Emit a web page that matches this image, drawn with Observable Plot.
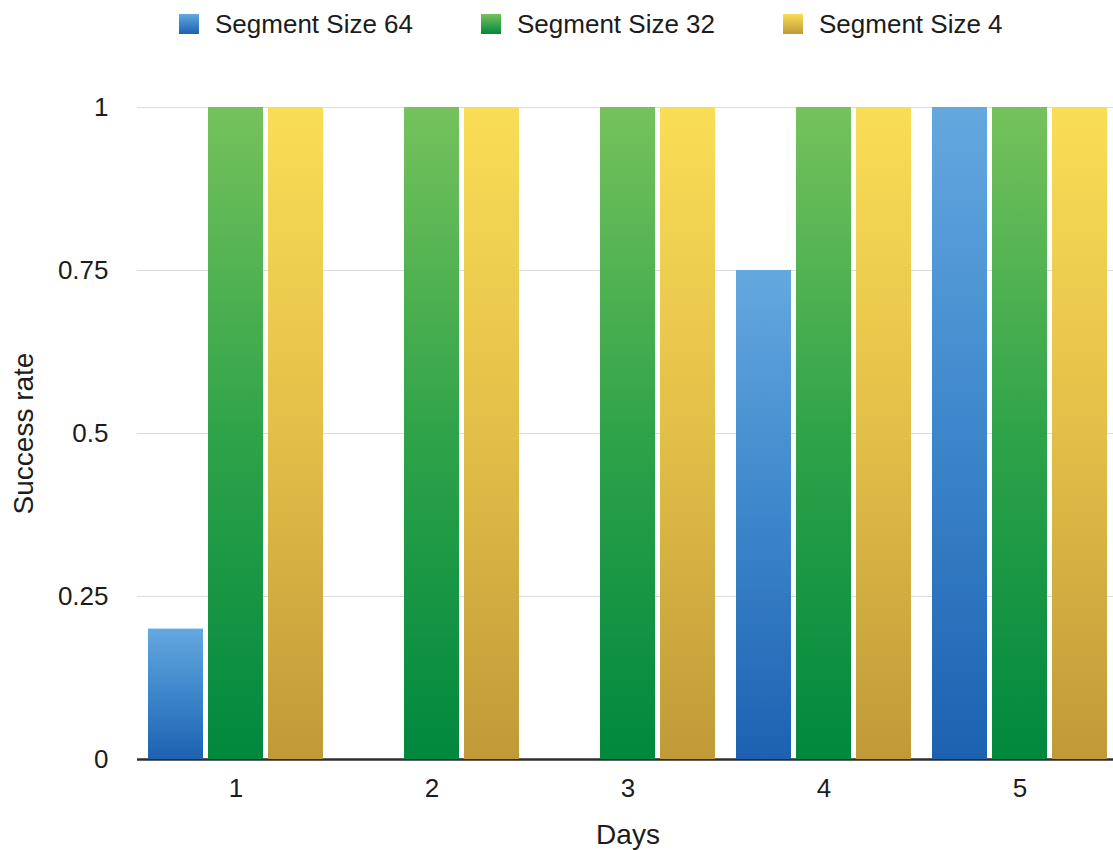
<!DOCTYPE html>
<html>
<head>
<meta charset="utf-8">
<script src="https://cdn.jsdelivr.net/npm/d3@7"></script>
<script src="https://cdn.jsdelivr.net/npm/@observablehq/plot@0.6"></script>
<style>
  html, body { margin: 0; padding: 0; background: #fff; overflow: hidden; }
  #wrap { position: relative; width: 1113px; height: 850px; font-family: "Liberation Sans", Arial, Helvetica, sans-serif; color: #1c1c1c; }
  #legend { position: absolute; left: 179px; top: 14px; display: flex; gap: 68px; }
  .item { display: flex; align-items: center; gap: 16px; font-size: 26px; line-height: 20px; height: 20px; white-space: nowrap; }
  .swatch { width: 20px; height: 20px; }
  .layer { position: absolute; left: 0; top: 45px; width: 1120px; }
  .layer svg { display: block; max-width: none !important; }
</style>
</head>
<body>
<div id="wrap">
  <div id="legend"></div>
  <div id="back" class="layer"></div>
  <div id="front" class="layer"></div>
</div>
<script>
// Days on the x axis
const days = [1, 2, 3, 4, 5];
// Series names (legend order)
const series = ["Segment Size 64", "Segment Size 32", "Segment Size 4"];
// Success rate per day for each segment size
const size64 = [0.2, 0, 0, 0.75, 1];
const size32 = [1, 1, 1, 1, 1];
const size4 = [1, 1, 1, 1, 1];
// Y axis ticks
const yTicks = [0, 0.25, 0.5, 0.75, 1];

// Vertical gradients for each series: top, middle, bottom
const gradients = [
  ["#64a8df", "#3d86cb", "#1d61b1"],
  ["#76c25c", "#2fa349", "#00883e"],
  ["#fadd56", "#e2bf48", "#c09a38"]
];

const values = [size64, size32, size4];
const rows = [];
days.forEach((d, i) => {
  series.forEach((s, j) => rows.push({day: d, series: s, value: values[j][i]}));
});

// Shared frame so both layers line up exactly
const frame = {
  width: 1120,
  height: 805,
  marginTop: 62,
  marginBottom: 91,
  marginLeft: 137,
  marginRight: 1
};
const font = "'Liberation Sans', Arial, Helvetica, sans-serif";
const yScale = {domain: [0, 1], ticks: yTicks, tickFormat: d3.format(""), tickSize: 0, tickPadding: 29,
  label: "Success rate", labelAnchor: "center", labelArrow: "none", labelOffset: 124};

// Back layer: continuous gridlines, y axis and the zero baseline
const back = Plot.plot({
  ...frame,
  style: {fontFamily: font, fontSize: "26px", color: "#1c1c1c", background: "#fff"},
  y: yScale,
  marks: [
    Plot.ruleY(yTicks.filter(t => t > 0), {stroke: "#dcdcdc", strokeWidth: 1}),
    Plot.ruleY([0], {stroke: "#2e2e2e", strokeWidth: 2.5, ariaLabel: "baseline"})
  ]
});

// Front layer: grouped bars, one facet per day
const front = Plot.plot({
  ...frame,
  style: {fontFamily: font, fontSize: "26px", color: "#1c1c1c", background: "transparent"},
  fx: {domain: days, paddingInner: 0.107, paddingOuter: 0.0535, label: "Days", labelAnchor: "center",
    labelArrow: "none", tickSize: 0, tickPadding: 19, labelOffset: 84},
  x: {domain: series, paddingInner: 0.086, paddingOuter: 0, axis: null},
  y: {...yScale, axis: null},
  marks: series.map((s, i) => Plot.barY(rows.filter(r => r.series === s && r.value > 0), {
    fx: "day", x: "series", y: "value", fill: `url(#grad${i})`
  }))
});

// Axis titles are set a little larger than the tick labels
d3.select(back).selectAll('[aria-label="y-axis label"] text').attr("font-size", 28);
d3.select(front).selectAll('[aria-label="fx-axis label"] text').attr("font-size", 28);

// Gradient definitions used by the bars
const defs = d3.select(front).insert("defs", ":first-child");
gradients.forEach((stops, i) => {
  const g = defs.append("linearGradient").attr("id", `grad${i}`)
    .attr("x1", 0).attr("y1", 0).attr("x2", 0).attr("y2", 1);
  stops.forEach((c, k) => g.append("stop").attr("offset", k / (stops.length - 1)).attr("stop-color", c));
});

// Keep the baseline above the bars
const baseline = back.querySelector('[aria-label="baseline"]');
if (baseline) front.appendChild(baseline);

document.getElementById("back").appendChild(back);
document.getElementById("front").appendChild(front);

// Legend with gradient swatches
const legend = d3.select("#legend");
series.forEach((s, i) => {
  const item = legend.append("div").attr("class", "item");
  item.append("div").attr("class", "swatch")
    .style("background", `linear-gradient(to bottom, ${gradients[i][0]}, ${gradients[i][2]})`);
  item.append("span").text(s);
});
</script>
</body>
</html>
